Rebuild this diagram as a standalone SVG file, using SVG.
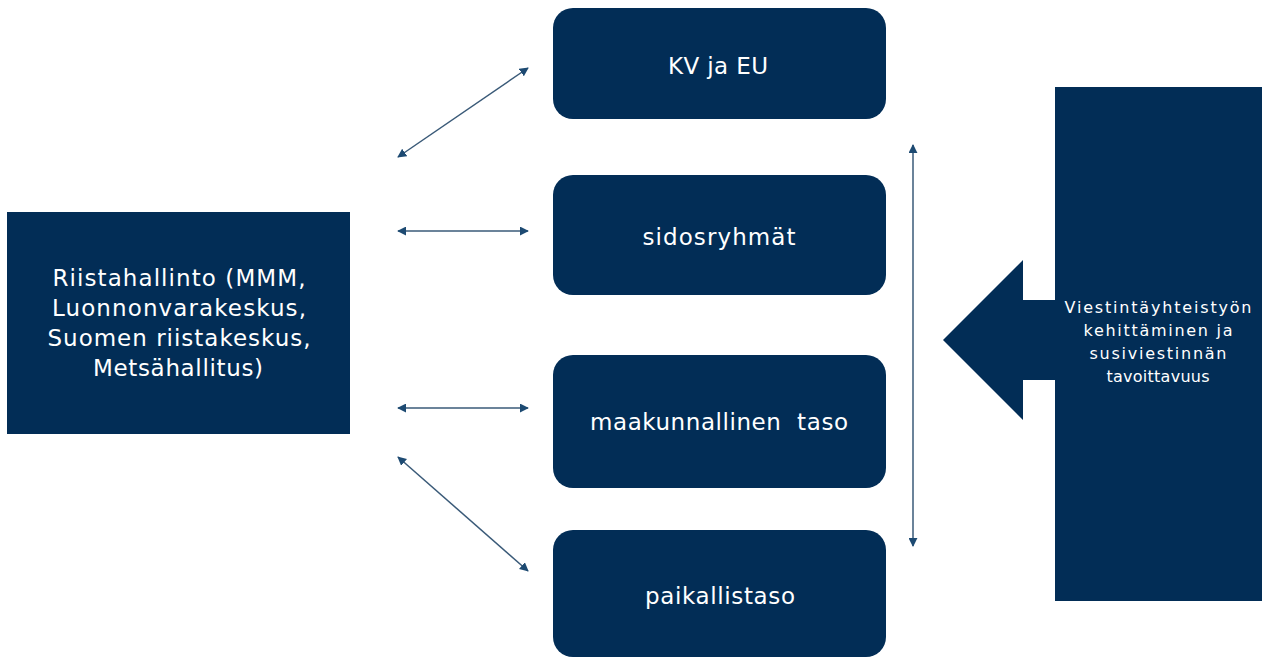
<svg xmlns="http://www.w3.org/2000/svg" width="1262" height="659" viewBox="0 0 1262 659">
<defs>
<style>
.box{fill:#022d56;}
.t{font-family:"DejaVu Sans","Liberation Sans",sans-serif;fill:#ffffff;text-anchor:middle;}
.c{stroke:#3a5a78;stroke-width:1.5;fill:none;marker-start:url(#ah);marker-end:url(#ah);}
</style>
<marker id="ah" viewBox="0 0 10 10" refX="9" refY="5" markerWidth="9" markerHeight="9" markerUnits="userSpaceOnUse" orient="auto-start-reverse">
<path d="M0,0 L10,5 L0,10 Z" fill="#1d4a72"/>
</marker>
</defs>
<rect width="1262" height="659" fill="#ffffff"/>
<g id="riistahallinto">
<rect class="box" x="7" y="212" width="343" height="222"/>
<text class="t" font-size="23" x="179" y="286" textLength="253" lengthAdjust="spacing">Riistahallinto (MMM,</text>
<text class="t" font-size="23" x="179" y="316" textLength="254" lengthAdjust="spacing">Luonnonvarakeskus,</text>
<text class="t" font-size="23" x="179" y="346" textLength="263" lengthAdjust="spacing">Suomen riistakeskus,</text>
<text class="t" font-size="23" x="178" y="376" textLength="170" lengthAdjust="spacing">Metsähallitus)</text>
</g>
<g id="kv-ja-eu">
<rect class="box" x="553" y="8" width="333" height="111" rx="20"/>
<text class="t" font-size="23" x="718" y="74" textLength="100" lengthAdjust="spacing">KV ja EU</text>
</g>
<g id="sidosryhmat">
<rect class="box" x="553" y="175" width="333" height="120" rx="20"/>
<text class="t" font-size="23" x="719" y="245" textLength="153" lengthAdjust="spacing">sidosryhmät</text>
</g>
<g id="maakunnallinen">
<rect class="box" x="553" y="355" width="333" height="133" rx="20"/>
<text class="t" font-size="23" x="719" y="430" textLength="258" lengthAdjust="spacing" xml:space="preserve">maakunnallinen  taso</text>
</g>
<g id="paikallistaso">
<rect class="box" x="553" y="530" width="333" height="127" rx="20"/>
<text class="t" font-size="23" x="720" y="604" textLength="150" lengthAdjust="spacing">paikallistaso</text>
</g>
<g id="viestinta">
<path class="box" d="M1055,87 H1262 V601 H1055 V380 H1023 V420 L943,340 L1023,260 V300 H1055 Z"/>
<text class="t" font-size="16" x="1158" y="313" textLength="187" lengthAdjust="spacing">Viestintäyhteistyön</text>
<text class="t" font-size="16" x="1158" y="336" textLength="149" lengthAdjust="spacing">kehittäminen ja</text>
<text class="t" font-size="16" x="1158" y="359" textLength="137" lengthAdjust="spacing">susiviestinnän</text>
<text class="t" font-size="16" x="1158" y="382" textLength="103" lengthAdjust="spacing">tavoittavuus</text>
</g>
<g id="connectors">
<line class="c" x1="398" y1="157" x2="528" y2="68"/>
<line class="c" x1="398" y1="231" x2="528" y2="231"/>
<line class="c" x1="398" y1="408" x2="528" y2="408"/>
<line class="c" x1="398" y1="457" x2="528" y2="571"/>
<line class="c" x1="913" y1="145" x2="913" y2="546"/>
</g>
</svg>
